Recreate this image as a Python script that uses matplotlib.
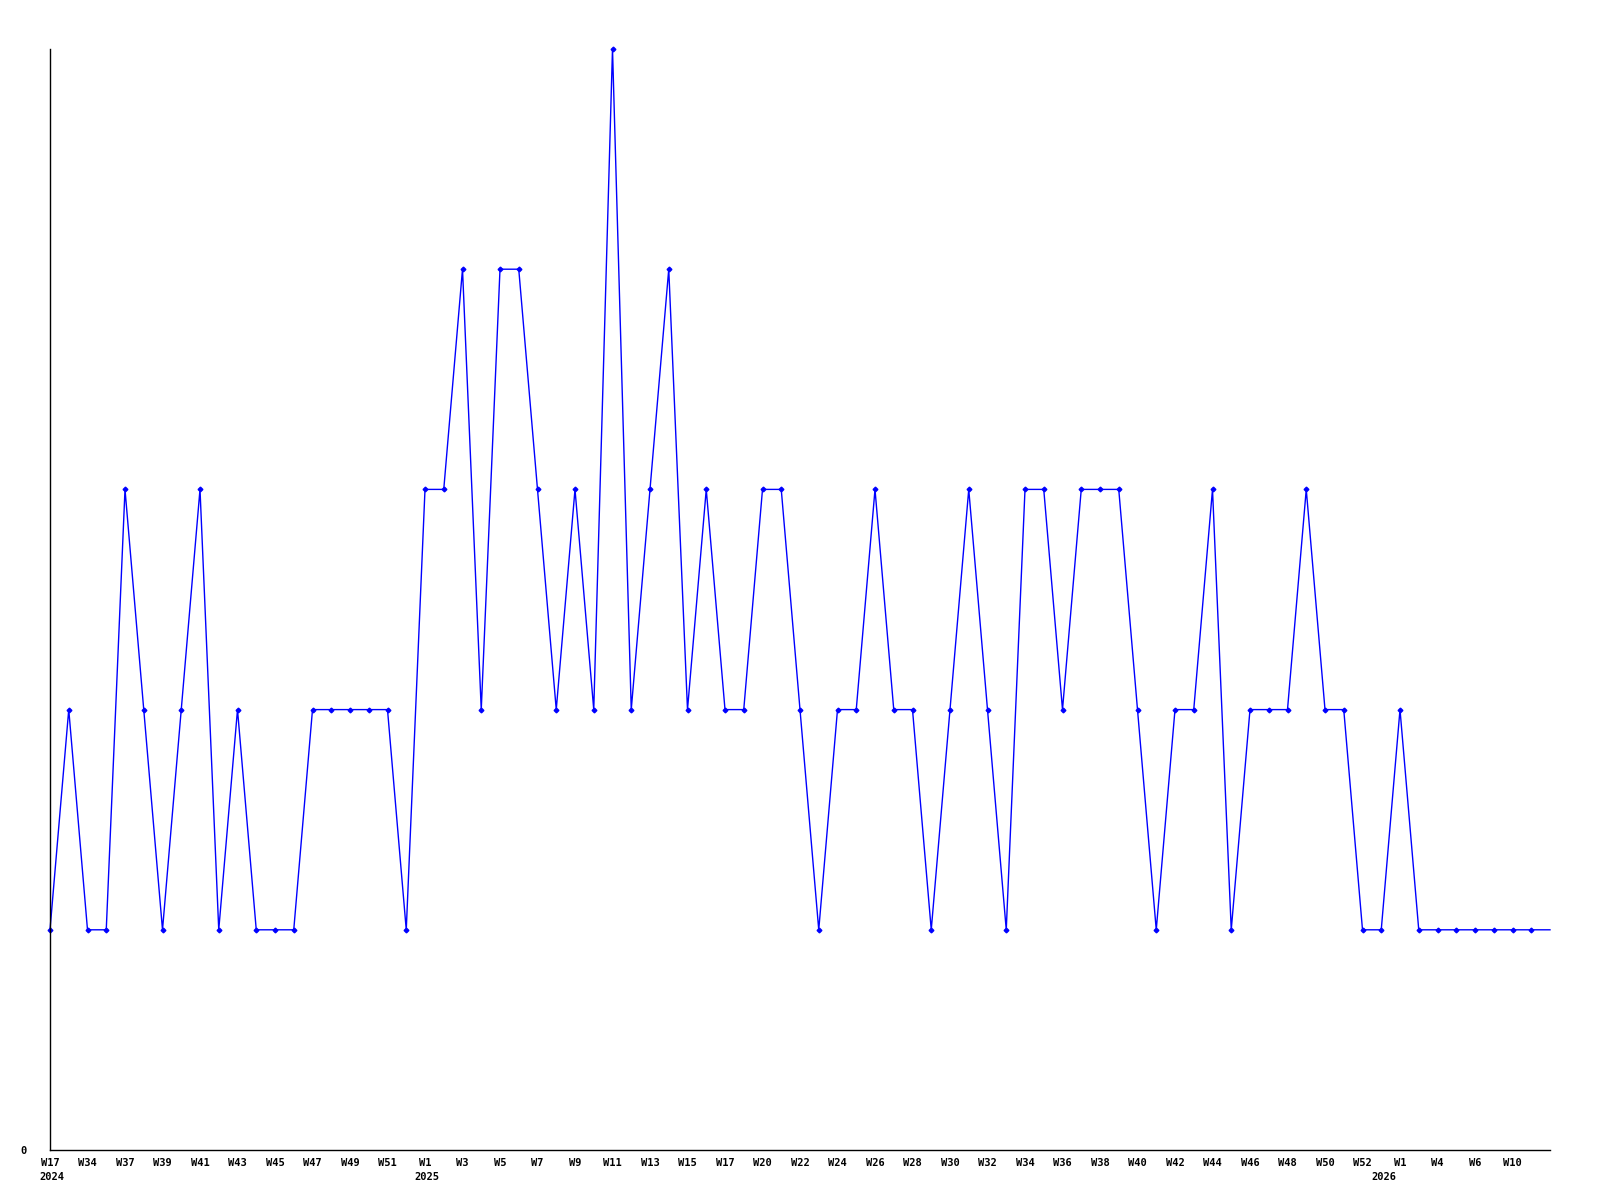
import matplotlib
matplotlib.use('Agg')
import matplotlib.pyplot as plt
import numpy as np

# weekly counts, one per plotted week (the last, current week has no marker)
values = [1, 2, 1, 1, 3, 2, 1, 2, 3, 1,
          2, 1, 1, 1, 2, 2, 2, 2, 2, 1,
          3, 3, 4, 2, 4, 4, 3, 2, 3, 2,
          5, 2, 3, 4, 2, 3, 2, 2, 3, 3,
          2, 1, 2, 2, 3, 2, 2, 1, 2, 3,
          2, 1, 3, 3, 2, 3, 3, 3, 2, 1,
          2, 2, 3, 1, 2, 2, 2, 3, 2, 2,
          1, 1, 2, 1, 1, 1, 1, 1, 1, 1,
          1]

# week labels shown on every other point
tick_labels = ['W17', 'W34', 'W37', 'W39', 'W41', 'W43', 'W45', 'W47', 'W49', 'W51',
               'W1', 'W3', 'W5', 'W7', 'W9', 'W11', 'W13', 'W15', 'W17', 'W20',
               'W22', 'W24', 'W26', 'W28', 'W30', 'W32', 'W34', 'W36', 'W38', 'W40',
               'W42', 'W44', 'W46', 'W48', 'W50', 'W52', 'W1', 'W4', 'W6', 'W10']
year_index = [0, 20, 71]
year_labels = ['2024', '2025', '2026']

FS = 7.5
font = dict(family='DejaVu Sans Mono', weight='bold', size=FS)

fig = plt.figure(figsize=(16, 12), dpi=100)
ax = fig.add_axes([50/1600, 1 - 1150/1200, 1500/1600, 1101/1200])

x = np.arange(len(values))
ax.plot(x, values, color='#0000ff', lw=1, clip_on=False)
ax.plot(x[:-1], values[:-1], ls='none', marker='D', ms=2.4, color='#0000ff', clip_on=False)

ax.set_xlim(0, len(values) - 1)
ax.set_ylim(0, 5)

for s in ['top', 'right']:
    ax.spines[s].set_visible(False)
for s in ['left', 'bottom']:
    ax.spines[s].set_color('black')
    ax.spines[s].set_linewidth(1)

tick_pos = x[::2][:len(tick_labels)]
ax.set_xticks(tick_pos)
ax.set_xticklabels(tick_labels, **font)
ax.tick_params(axis='x', length=0, pad=5.5)
ax.set_yticks([0])
ax.set_yticklabels(['0'], **font)
ax.tick_params(axis='y', length=0, pad=17)

# year labels under the first point of each year
for i, yl in zip(year_index, year_labels):
    ax.annotate(yl, xy=(i, 0), xycoords=('data', 'axes fraction'),
                xytext=(-7.3, -16), textcoords='offset points',
                ha='left', va='top', **font)

fig.savefig('out.png', dpi=100)
